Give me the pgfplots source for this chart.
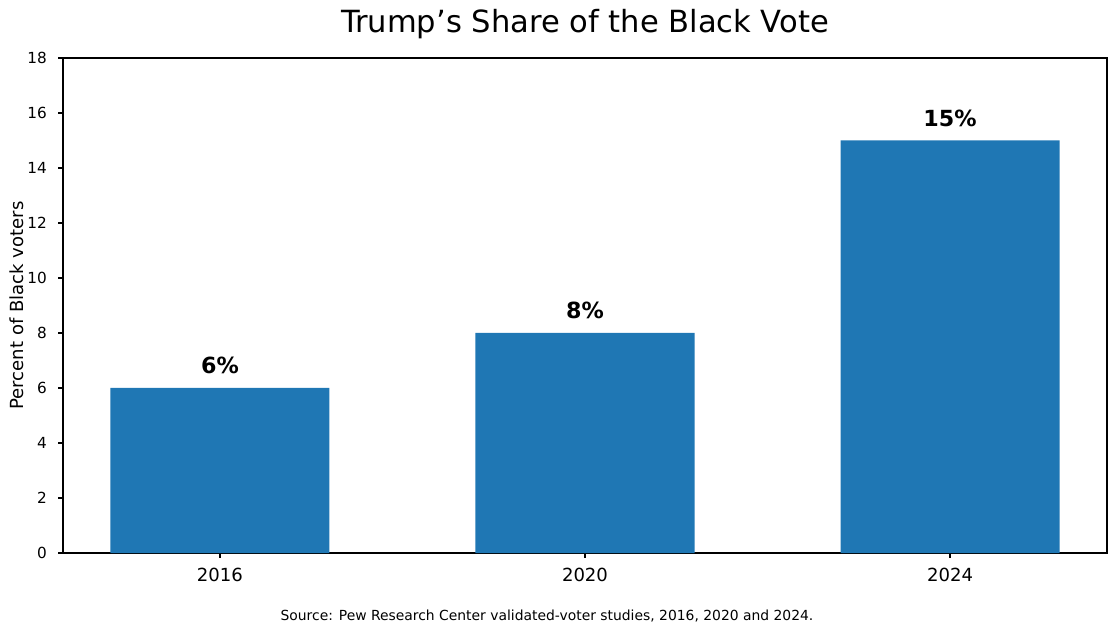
\documentclass[border=0pt]{standalone}
\usepackage{fontspec}
\setmainfont{DejaVu Sans}
\usepackage{pgfplots}
\pgfplotsset{compat=1.18}
\definecolor{tabblue}{HTML}{1F77B4}
\begin{document}
\begin{tikzpicture}
\useasboundingbox (-45.36pt,-56.88pt) rectangle (759.6pt,398.16pt);
\begin{axis}[at={(0,0)}, anchor=south west, scale only axis,
  width=751.68pt, height=356.4pt,
  ybar, bar width=0.6, xmin=-0.43, xmax=2.43, ymin=0, ymax=18,
  ytick={0,2,...,18},
  xtick={0,1,2}, xticklabels={2016,2020,2024},
  xtick pos=bottom, ytick pos=left,
  tick align=outside, major tick length=3.5pt,
  tick style={black, line width=0.8pt},
  axis line style={line width=0.8pt},
  /pgf/number format/assume math mode=true,
  yticklabel style={font=\fontsize{11}{13}\selectfont, anchor=east, inner sep=0pt, xshift=-7.9pt},
  xticklabel style={font=\fontsize{13}{15}\selectfont, anchor=base, inner sep=0pt, yshift=-17.28pt},
  clip=false,
]
\addplot[fill=tabblue, draw=none,
  nodes near coords={\pgfmathprintnumber{\pgfplotspointmeta}\%},
  every node near coord/.append style={font=\bfseries\fontsize{16}{18}\selectfont, anchor=base, yshift=10.4pt, inner sep=0pt, text=black}]
  coordinates {(0,6) (1,8) (2,15)};
\end{axis}
\node[anchor=base, font=\fontsize{22}{26}\selectfont, inner sep=0pt] at (375.84pt,374.4pt) {Trump’s Share of the Black Vote};
\node[rotate=90, anchor=base, font=\fontsize{13}{15}\selectfont, inner sep=0pt] at (-28.08pt,178.2pt) {Percent of Black voters};
\node[anchor=base, font=\fontsize{10}{12}\selectfont, inner sep=0pt] at (348.48pt,-48.24pt) {Source: Pew Research Center validated-voter studies, 2016, 2020 and 2024.};
\end{tikzpicture}
\end{document}
